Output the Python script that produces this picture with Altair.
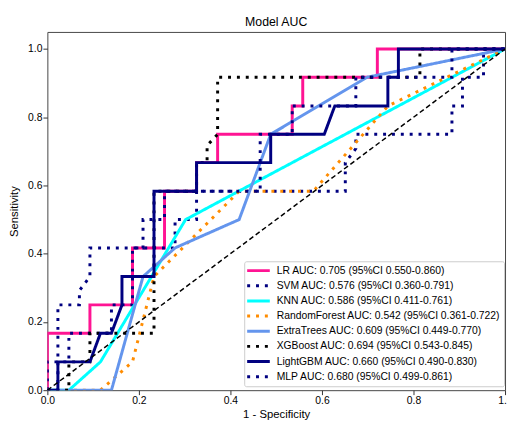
import altair as alt
import pandas as pd

# ---------------- data ----------------
models = ["LR", "SVM", "KNN", "RandomForest", "ExtraTrees", "XGBoost", "LightGBM", "MLP"]
auc_values = ["0.705", "0.576", "0.586", "0.542", "0.609", "0.694", "0.660", "0.680"]
ci_lower = ["0.550", "0.360", "0.411", "0.361", "0.449", "0.543", "0.490", "0.499"]
ci_upper = ["0.860", "0.791", "0.761", "0.722", "0.770", "0.845", "0.830", "0.861"]
line_colors = ["#FF1493", "#000080", "#00FFFF", "#FF8C00", "#6495ED", "#000000", "#000080", "#000080"]
line_dashes = [[1, 0], [3, 6], [1, 0], [3, 6], [1, 0], [3, 6], [1, 0], [3, 6]]

lr_fpr = [0, 0, 0.093, 0.093, 0.186, 0.186, 0.256, 0.256, 0.326, 0.326, 0.372, 0.372,
          0.535, 0.535, 0.558, 0.558, 0.721, 0.721, 1.0]
lr_tpr = [0, 0.167, 0.167, 0.25, 0.25, 0.417, 0.417, 0.583, 0.583, 0.667, 0.667, 0.75,
          0.75, 0.833, 0.833, 0.917, 0.917, 1.0, 1.0]

svm_fpr = [0, 0, 0.047, 0.047, 0.140, 0.140, 0.186, 0.186, 0.279, 0.279, 0.326, 0.326,
           0.651, 0.651, 0.674, 0.674, 0.884, 0.884, 0.907, 0.907, 0.953, 0.953, 1.0]
svm_tpr = [0, 0.083, 0.083, 0.167, 0.167, 0.25, 0.25, 0.417, 0.417, 0.5, 0.5, 0.583,
           0.583, 0.667, 0.708, 0.75, 0.75, 0.833, 0.833, 0.917, 0.917, 1.0, 1.0]

knn_fpr = [0, 0.047, 0.116, 0.302, 1.0]
knn_tpr = [0, 0, 0.083, 0.5, 1.0]

rf_fpr = [0, 0.116, 0.186, 0.233, 0.419, 0.581, 0.744, 1.0]
rf_tpr = [0, 0, 0.083, 0.333, 0.583, 0.583, 0.833, 1.0]

et_fpr = [0, 0.140, 0.209, 0.279, 0.419, 0.488, 0.698, 1.0]
et_tpr = [0, 0, 0.333, 0.417, 0.5, 0.75, 0.917, 1.0]

xgb_fpr = [0, 0.047, 0.047, 0.093, 0.093, 0.233, 0.233, 0.326, 0.326, 0.349, 0.349,
           0.372, 0.372, 0.814, 0.814, 1.0]
xgb_tpr = [0, 0, 0.083, 0.083, 0.167, 0.167, 0.583, 0.583, 0.667, 0.667, 0.717,
           0.75, 0.917, 0.917, 1.0, 1.0]

lgbm_fpr = [0, 0.023, 0.023, 0.093, 0.116, 0.140, 0.163, 0.163, 0.233, 0.233, 0.326,
            0.326, 0.488, 0.488, 0.605, 0.628, 0.744, 0.744, 0.767, 0.767, 1.0]
lgbm_tpr = [0, 0, 0.083, 0.083, 0.167, 0.167, 0.25, 0.333, 0.333, 0.583, 0.583,
            0.667, 0.667, 0.75, 0.75, 0.833, 0.833, 0.917, 0.917, 1.0, 1.0]

mlp_fpr = [0, 0.023, 0.023, 0.070, 0.070, 0.093, 0.093, 0.209, 0.209, 0.256, 0.256,
           0.465, 0.465, 0.535, 0.535, 0.674, 0.674, 0.884, 0.884, 1.0]
mlp_tpr = [0, 0, 0.25, 0.25, 0.292, 0.333, 0.417, 0.417, 0.5, 0.5, 0.583,
           0.583, 0.75, 0.75, 0.833, 0.833, 0.917, 0.917, 1.0, 1.0]

diag_x = [0, 1]
diag_y = [0, 1]

x_ticks = [0, 0.2, 0.4, 0.6, 0.8, 1.0]
y_ticks = [0, 0.2, 0.4, 0.6, 0.8, 1.0]

fpr_lists = [lr_fpr, svm_fpr, knn_fpr, rf_fpr, et_fpr, xgb_fpr, lgbm_fpr, mlp_fpr]
tpr_lists = [lr_tpr, svm_tpr, knn_tpr, rf_tpr, et_tpr, xgb_tpr, lgbm_tpr, mlp_tpr]

labels = [f"{m} AUC: {a} (95%CI {lo}-{hi})"
          for m, a, lo, hi in zip(models, auc_values, ci_lower, ci_upper)]

rows = []
for m, lab, fx, ty in zip(models, labels, fpr_lists, tpr_lists):
    for i, (xv, yv) in enumerate(zip(fx, ty)):
        rows.append({"model": m, "label": lab, "idx": i, "fpr": xv, "tpr": yv})
df = pd.DataFrame(rows)
diag_df = pd.DataFrame({"fpr": diag_x, "tpr": diag_y})

# ---------------- styling ----------------
FONT = "Liberation Sans"

xscale = alt.Scale(domain=[0, 1], nice=False, zero=False)
yscale = alt.Scale(domain=[0, 1.05], nice=False, zero=False)

xaxis = alt.Axis(values=x_ticks, format=".1f", title="1 - Specificity", grid=False,
                 domain=False, tickSize=4.5, tickColor="#333", labelPadding=1,
                 labelFlush=False, labelOverlap=False,
                 labelFont=FONT, labelFontSize=10.5, labelColor="#000",
                 titleFont=FONT, titleFontSize=11.5, titleFontWeight="normal",
                 titleColor="#000", titleY=19, titleBaseline="top")
yaxis = alt.Axis(values=y_ticks, format=".1f", title="Sensitivity", grid=False,
                 domain=False, tickSize=4.5, tickColor="#333", labelPadding=1,
                 labelFlush=False, labelOverlap=False,
                 labelFont=FONT, labelFontSize=10.5, labelColor="#000",
                 titleFont=FONT, titleFontSize=11.5, titleFontWeight="normal",
                 titleColor="#000", titleX=-33, titleBaseline="middle")

legend = alt.Legend(title=None, orient="none", legendX=200, legendY=233,
                    symbolType="M-1.3,0H3.3", symbolSize=100, symbolStrokeWidth=3,
                    labelOffset=17, labelFont=FONT, labelFontSize=10.5,
                    labelColor="#000", labelLimit=0, fillColor="white",
                    strokeColor="#cccccc", padding=3, cornerRadius=2,
                    rowPadding=2.4)

cscale = alt.Scale(domain=labels, range=line_colors)
dscale = alt.Scale(domain=labels, range=line_dashes)

base = alt.Chart(df)
layers = []
for m in models:
    layers.append(
        base.transform_filter(alt.datum.model == m)
        .mark_line(strokeWidth=3, strokeCap="butt", clip=True)
        .encode(
            x=alt.X("fpr:Q", scale=xscale, axis=xaxis),
            y=alt.Y("tpr:Q", scale=yscale, axis=yaxis),
            order=alt.Order("idx:Q"),
            color=alt.Color("label:N", scale=cscale, legend=legend),
            strokeDash=alt.StrokeDash("label:N", scale=dscale, legend=legend),
        )
    )

diag = alt.Chart(diag_df).mark_line(color="black", strokeWidth=1.5,
                                    strokeDash=[5, 3], clip=True).encode(
    x=alt.X("fpr:Q", scale=xscale, axis=xaxis),
    y=alt.Y("tpr:Q", scale=yscale, axis=yaxis),
)

chart = alt.layer(*layers, diag).properties(
    width=465, height=364,
    title=alt.TitleParams(text="Model AUC", font=FONT, fontSize=12.5,
                          fontWeight="normal", color="#000", offset=4,
                          anchor="middle"),
    autosize=alt.AutoSizeParams(type="none"),
    padding={"left": 40, "top": 21, "right": 2, "bottom": 29},
).configure_view(stroke="#444", strokeWidth=1)

chart.save("out.html", embed_options={"renderer": "svg", "actions": False})
